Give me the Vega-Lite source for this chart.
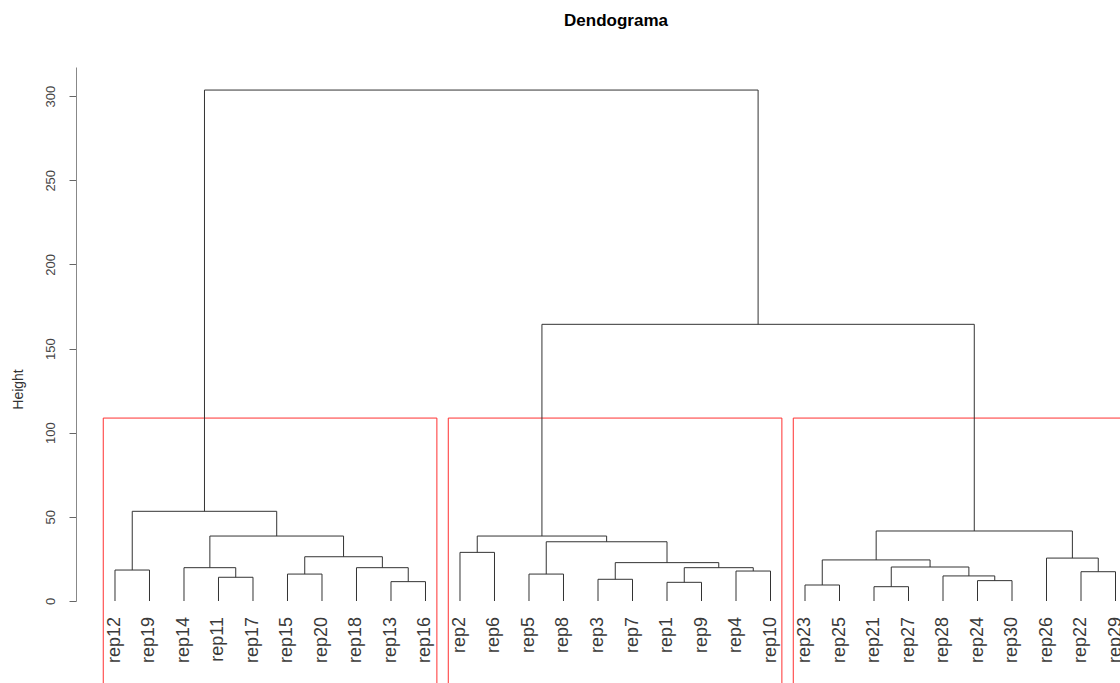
{
  "$schema": "https://vega.github.io/schema/vega-lite/v6.json",
  "width": 1044,
  "height": 534,
  "autosize": {"type": "none"},
  "padding": {"left": 76, "top": 67, "right": 0, "bottom": 82},
  "background": "white",
  "title": {"text": "Dendograma", "font": "Liberation Sans", "fontSize": 17, "fontWeight": "bold", "color": "#000000", "anchor": "middle", "frame": "group", "dx": 18, "offset": 37},
  "config": {"view": {"stroke": null}},
  "datasets": {
    "boxes": [
      {"x1": 0.66, "x2": 10.33, "y1": 108.7, "y2": -60},
      {"x1": 10.66, "x2": 20.33, "y1": 108.7, "y2": -60},
      {"x1": 20.66, "x2": 30.33, "y1": 108.7, "y2": -60}
    ],
    "leaves": [
      {"pos": 1, "leaf": "rep12"}, {"pos": 2, "leaf": "rep19"}, {"pos": 3, "leaf": "rep14"}, {"pos": 4, "leaf": "rep11"}, {"pos": 5, "leaf": "rep17"},
      {"pos": 6, "leaf": "rep15"}, {"pos": 7, "leaf": "rep20"}, {"pos": 8, "leaf": "rep18"}, {"pos": 9, "leaf": "rep13"}, {"pos": 10, "leaf": "rep16"},
      {"pos": 11, "leaf": "rep2"}, {"pos": 12, "leaf": "rep6"}, {"pos": 13, "leaf": "rep5"}, {"pos": 14, "leaf": "rep8"}, {"pos": 15, "leaf": "rep3"},
      {"pos": 16, "leaf": "rep7"}, {"pos": 17, "leaf": "rep1"}, {"pos": 18, "leaf": "rep9"}, {"pos": 19, "leaf": "rep4"}, {"pos": 20, "leaf": "rep10"},
      {"pos": 21, "leaf": "rep23"}, {"pos": 22, "leaf": "rep25"}, {"pos": 23, "leaf": "rep21"}, {"pos": 24, "leaf": "rep27"}, {"pos": 25, "leaf": "rep28"},
      {"pos": 26, "leaf": "rep24"}, {"pos": 27, "leaf": "rep30"}, {"pos": 28, "leaf": "rep26"}, {"pos": 29, "leaf": "rep22"}, {"pos": 30, "leaf": "rep29"}
    ],
    "tree": [
      {"x1": 1, "x2": 2, "y1": 18.4, "y2": 18.4}, {"x1": 1, "x2": 1, "y1": 0, "y2": 18.4}, {"x1": 2, "x2": 2, "y1": 0, "y2": 18.4},
      {"x1": 4, "x2": 5, "y1": 14.1, "y2": 14.1}, {"x1": 4, "x2": 4, "y1": 0, "y2": 14.1}, {"x1": 5, "x2": 5, "y1": 0, "y2": 14.1},
      {"x1": 3, "x2": 4.5, "y1": 19.8, "y2": 19.8}, {"x1": 3, "x2": 3, "y1": 0, "y2": 19.8}, {"x1": 4.5, "x2": 4.5, "y1": 14.1, "y2": 19.8},
      {"x1": 6, "x2": 7, "y1": 16.0, "y2": 16.0}, {"x1": 6, "x2": 6, "y1": 0, "y2": 16.0}, {"x1": 7, "x2": 7, "y1": 0, "y2": 16.0},
      {"x1": 9, "x2": 10, "y1": 11.5, "y2": 11.5}, {"x1": 9, "x2": 9, "y1": 0, "y2": 11.5}, {"x1": 10, "x2": 10, "y1": 0, "y2": 11.5},
      {"x1": 8, "x2": 9.5, "y1": 19.8, "y2": 19.8}, {"x1": 8, "x2": 8, "y1": 0, "y2": 19.8}, {"x1": 9.5, "x2": 9.5, "y1": 11.5, "y2": 19.8},
      {"x1": 6.5, "x2": 8.75, "y1": 26.3, "y2": 26.3}, {"x1": 6.5, "x2": 6.5, "y1": 16.0, "y2": 26.3}, {"x1": 8.75, "x2": 8.75, "y1": 19.8, "y2": 26.3},
      {"x1": 3.75, "x2": 7.625, "y1": 38.6, "y2": 38.6}, {"x1": 3.75, "x2": 3.75, "y1": 19.8, "y2": 38.6}, {"x1": 7.625, "x2": 7.625, "y1": 26.3, "y2": 38.6},
      {"x1": 1.5, "x2": 5.6875, "y1": 53.3, "y2": 53.3}, {"x1": 1.5, "x2": 1.5, "y1": 18.4, "y2": 53.3}, {"x1": 5.6875, "x2": 5.6875, "y1": 38.6, "y2": 53.3},
      {"x1": 11, "x2": 12, "y1": 28.9, "y2": 28.9}, {"x1": 11, "x2": 11, "y1": 0, "y2": 28.9}, {"x1": 12, "x2": 12, "y1": 0, "y2": 28.9},
      {"x1": 13, "x2": 14, "y1": 16.0, "y2": 16.0}, {"x1": 13, "x2": 13, "y1": 0, "y2": 16.0}, {"x1": 14, "x2": 14, "y1": 0, "y2": 16.0},
      {"x1": 15, "x2": 16, "y1": 12.9, "y2": 12.9}, {"x1": 15, "x2": 15, "y1": 0, "y2": 12.9}, {"x1": 16, "x2": 16, "y1": 0, "y2": 12.9},
      {"x1": 17, "x2": 18, "y1": 11.1, "y2": 11.1}, {"x1": 17, "x2": 17, "y1": 0, "y2": 11.1}, {"x1": 18, "x2": 18, "y1": 0, "y2": 11.1},
      {"x1": 19, "x2": 20, "y1": 17.8, "y2": 17.8}, {"x1": 19, "x2": 19, "y1": 0, "y2": 17.8}, {"x1": 20, "x2": 20, "y1": 0, "y2": 17.8},
      {"x1": 17.5, "x2": 19.5, "y1": 19.8, "y2": 19.8}, {"x1": 17.5, "x2": 17.5, "y1": 11.1, "y2": 19.8}, {"x1": 19.5, "x2": 19.5, "y1": 17.8, "y2": 19.8},
      {"x1": 15.5, "x2": 18.5, "y1": 22.8, "y2": 22.8}, {"x1": 15.5, "x2": 15.5, "y1": 12.9, "y2": 22.8}, {"x1": 18.5, "x2": 18.5, "y1": 19.8, "y2": 22.8},
      {"x1": 13.5, "x2": 17, "y1": 35.2, "y2": 35.2}, {"x1": 13.5, "x2": 13.5, "y1": 16.0, "y2": 35.2}, {"x1": 17, "x2": 17, "y1": 22.8, "y2": 35.2},
      {"x1": 11.5, "x2": 15.25, "y1": 38.6, "y2": 38.6}, {"x1": 11.5, "x2": 11.5, "y1": 28.9, "y2": 38.6}, {"x1": 15.25, "x2": 15.25, "y1": 35.2, "y2": 38.6},
      {"x1": 21, "x2": 22, "y1": 9.5, "y2": 9.5}, {"x1": 21, "x2": 21, "y1": 0, "y2": 9.5}, {"x1": 22, "x2": 22, "y1": 0, "y2": 9.5},
      {"x1": 23, "x2": 24, "y1": 8.5, "y2": 8.5}, {"x1": 23, "x2": 23, "y1": 0, "y2": 8.5}, {"x1": 24, "x2": 24, "y1": 0, "y2": 8.5},
      {"x1": 26, "x2": 27, "y1": 12.1, "y2": 12.1}, {"x1": 26, "x2": 26, "y1": 0, "y2": 12.1}, {"x1": 27, "x2": 27, "y1": 0, "y2": 12.1},
      {"x1": 25, "x2": 26.5, "y1": 14.9, "y2": 14.9}, {"x1": 25, "x2": 25, "y1": 0, "y2": 14.9}, {"x1": 26.5, "x2": 26.5, "y1": 12.1, "y2": 14.9},
      {"x1": 23.5, "x2": 25.75, "y1": 20.2, "y2": 20.2}, {"x1": 23.5, "x2": 23.5, "y1": 8.5, "y2": 20.2}, {"x1": 25.75, "x2": 25.75, "y1": 14.9, "y2": 20.2},
      {"x1": 21.5, "x2": 24.625, "y1": 24.4, "y2": 24.4}, {"x1": 21.5, "x2": 21.5, "y1": 9.5, "y2": 24.4}, {"x1": 24.625, "x2": 24.625, "y1": 20.2, "y2": 24.4},
      {"x1": 29, "x2": 30, "y1": 17.4, "y2": 17.4}, {"x1": 29, "x2": 29, "y1": 0, "y2": 17.4}, {"x1": 30, "x2": 30, "y1": 0, "y2": 17.4},
      {"x1": 28, "x2": 29.5, "y1": 25.5, "y2": 25.5}, {"x1": 28, "x2": 28, "y1": 0, "y2": 25.5}, {"x1": 29.5, "x2": 29.5, "y1": 17.4, "y2": 25.5},
      {"x1": 23.0625, "x2": 28.75, "y1": 41.6, "y2": 41.6}, {"x1": 23.0625, "x2": 23.0625, "y1": 24.4, "y2": 41.6}, {"x1": 28.75, "x2": 28.75, "y1": 25.5, "y2": 41.6},
      {"x1": 13.375, "x2": 25.90625, "y1": 164.4, "y2": 164.4}, {"x1": 13.375, "x2": 13.375, "y1": 38.6, "y2": 164.4}, {"x1": 25.90625, "x2": 25.90625, "y1": 41.6, "y2": 164.4},
      {"x1": 3.59375, "x2": 19.640625, "y1": 303.6, "y2": 303.6}, {"x1": 3.59375, "x2": 3.59375, "y1": 53.3, "y2": 303.6}, {"x1": 19.640625, "x2": 19.640625, "y1": 164.4, "y2": 303.6}
    ]
  },
  "layer": [
    {
      "data": {"name": "boxes"},
      "mark": {"type": "rect", "filled": false, "color": "#ff3030", "strokeWidth": 1},
      "encoding": {
        "x": {"field": "x1", "type": "quantitative", "scale": {"domain": [-0.13, 30.13], "nice": false, "zero": false}, "axis": null},
        "x2": {"field": "x2"},
        "y": {"field": "y1", "type": "quantitative", "scale": {"domain": [0, 317.3], "nice": false, "zero": false},
          "axis": {"values": [0, 50, 100, 150, 200, 250, 300], "grid": false, "domain": true, "domainColor": "#888888", "tickColor": "#666666", "tickSize": 7,
            "labelAngle": 270, "labelAlign": "center", "labelBaseline": "bottom", "labelPadding": 12, "labelFont": "Liberation Sans", "labelFontSize": 13, "labelColor": "#444444",
            "title": "Height", "titleFont": "Liberation Sans", "titleFontSize": 14, "titleFontWeight": "normal", "titleColor": "#333333", "titleAngle": 270, "titleX": -58, "titleY": 322, "titleAlign": "center", "titleBaseline": "middle"}},
        "y2": {"field": "y2"}
      }
    },
    {
      "data": {"name": "tree"},
      "mark": {"type": "rule", "color": "#333333", "strokeWidth": 1},
      "encoding": {
        "x": {"field": "x1", "type": "quantitative"},
        "x2": {"field": "x2"},
        "y": {"field": "y1", "type": "quantitative"},
        "y2": {"field": "y2"}
      }
    },
    {
      "data": {"name": "leaves"},
      "mark": {"type": "text", "angle": 270, "align": "right", "baseline": "middle", "dx": -16, "font": "Liberation Sans", "fontSize": 18, "color": "#3a3a3a"},
      "encoding": {
        "x": {"field": "pos", "type": "quantitative"},
        "y": {"datum": 0, "type": "quantitative"},
        "text": {"field": "leaf"}
      }
    }
  ]
}
